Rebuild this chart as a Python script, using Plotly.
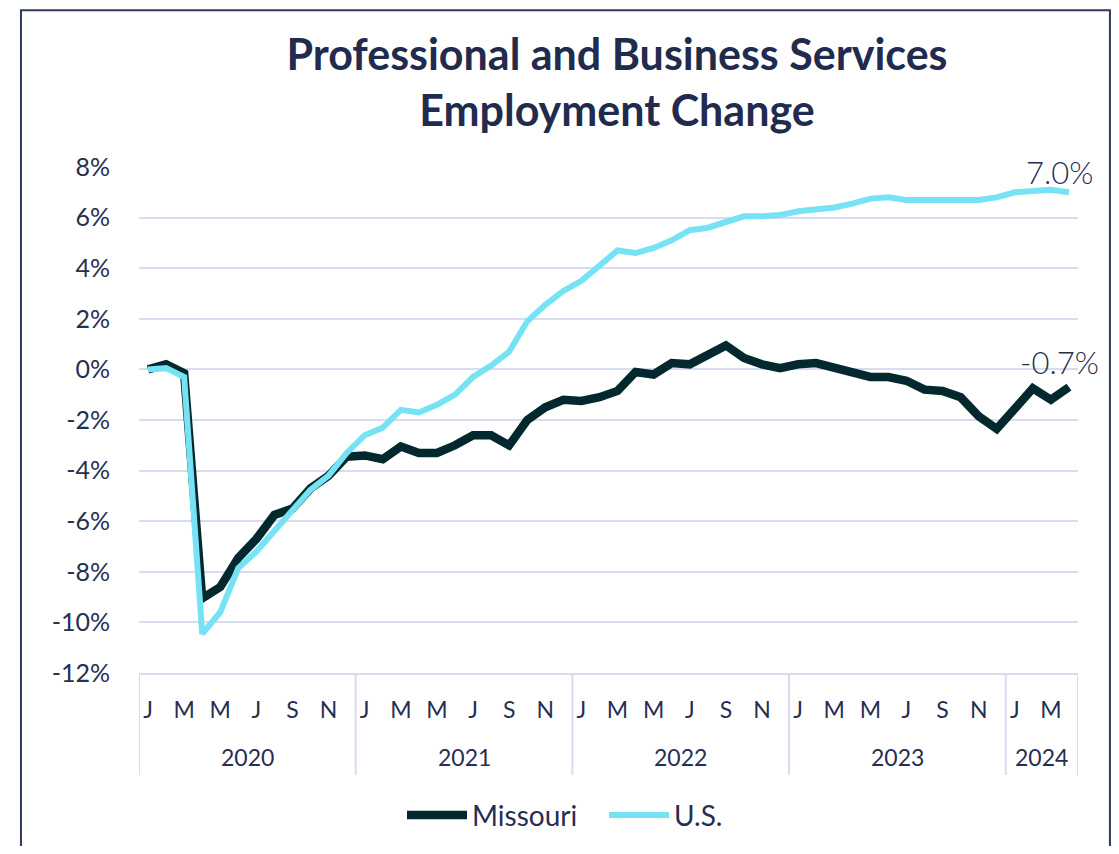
import plotly.graph_objects as go

# ---- data ----
years = [2020, 2021, 2022, 2023, 2024]
month_initials = ["J", "F", "M", "A", "M", "J", "J", "A", "S", "O", "N", "D"]
months = [f"{y}-{m:02d}" for y in years for m in range(1, 13)][:52]  # Jan 2020 - Apr 2024

missouri = [
    0.0, 0.2, -0.15, -9.05, -8.6, -7.45, -6.7, -5.75, -5.5, -4.7, -4.2, -3.45,
    -3.4, -3.55, -3.05, -3.3, -3.3, -3.0, -2.6, -2.6, -3.0, -2.0, -1.5, -1.2,
    -1.25, -1.1, -0.85, -0.1, -0.2, 0.25, 0.2, 0.55, 0.95, 0.45, 0.2, 0.05,
    0.2, 0.25, 0.05, -0.15, -0.3, -0.3, -0.45, -0.8, -0.85, -1.1, -1.85, -2.35,
    -1.5, -0.75, -1.2, -0.7,
]
us = [
    0.0, 0.05, -0.3, -10.45, -9.6, -7.85, -7.2, -6.4, -5.6, -4.75, -4.2, -3.3,
    -2.6, -2.3, -1.6, -1.7, -1.4, -1.0, -0.3, 0.15, 0.7, 1.9, 2.55, 3.1,
    3.5, 4.1, 4.7, 4.6, 4.8, 5.1, 5.5, 5.6, 5.8, 6.05, 6.05, 6.1,
    6.25, 6.3, 6.4, 6.55, 6.75, 6.8, 6.7, 6.7, 6.7, 6.65, 6.7, 6.8,
    7.0, 7.05, 7.1, 7.0,
]
y_tick_vals = [-12, -10, -8, -6, -4, -2, 0, 2, 4, 6, 8]
y_tick_text = ["-12%", "-10%", "-8%", "-6%", "-4%", "-2%", "0%", "2%", "4%", "6%", "8%"]
end_labels = ["-0.7%", "7.0%"]

TEXT = "#262f52"
GRID = "#d9dcee"
FONT = "Lato, 'Open Sans', sans-serif"

W, H = 1103, 838

fig = go.Figure()
fig.add_trace(go.Scatter(x=months, y=missouri, mode="lines", name="Missouri",
                         line=dict(color="#03292e", width=8.5)))
fig.add_trace(go.Scatter(x=months, y=us, mode="lines", name="U.S.",
                         line=dict(color="#75e3f3", width=6)))

# x ticks: every other month
tick_idx = list(range(0, len(months), 2))
fig.update_xaxes(
    type="category",
    range=[-0.5, len(months) - 0.5],
    tickvals=[months[i] for i in tick_idx],
    ticktext=[month_initials[int(months[i][5:]) - 1] for i in tick_idx],
    tickfont=dict(size=23, color=TEXT, family=FONT),
    showgrid=False, ticks="", ticklabelstandoff=15,
    showline=True, linecolor=GRID, linewidth=2,
)
fig.update_yaxes(
    range=[-12, 8], tickvals=y_tick_vals, ticktext=y_tick_text,
    tickfont=dict(size=25, color=TEXT, family=FONT),
    showgrid=True, gridcolor=GRID, gridwidth=2, zeroline=False,
    ticks="", ticklabelstandoff=28,
)

# year group labels and dividers
shapes = []
annotations = []
n = len(months)
for y in years:
    idx = [i for i, m in enumerate(months) if m.startswith(str(y))]
    if not idx:
        continue
    c = (idx[0] + idx[-1]) / 2
    annotations.append(dict(x=c, y=-0.166, xref="x", yref="paper", text=str(y),
                            showarrow=False, font=dict(size=23, color=TEXT, family=FONT),
                            yanchor="middle"))
    shapes.append(dict(type="line", xref="x", yref="paper", x0=idx[0] - 0.5, x1=idx[0] - 0.5,
                       y0=0, y1=-0.2016, line=dict(color=GRID, width=2)))
shapes.append(dict(type="line", xref="x", yref="paper", x0=n - 0.5, x1=n - 0.5,
                   y0=0, y1=-0.2016, line=dict(color=GRID, width=2)))

# outer border
shapes.append(dict(type="rect", xref="paper", yref="paper", x0=-0.1257, x1=1.034,
                   y0=-0.5, y1=1.31, line=dict(color="#2d3a5c", width=2), layer="below"))

# end labels
annotations.append(dict(x=months[-1], y=missouri[-1], text=end_labels[0], showarrow=False,
                        xshift=-9, yshift=25, font=dict(size=31, color=TEXT, family=FONT, weight=300)))
annotations.append(dict(x=months[-1], y=us[-1], text=end_labels[1], showarrow=False,
                        xshift=-9, yshift=20, font=dict(size=31, color=TEXT, family=FONT, weight=300)))

fig.update_layout(
    width=W, height=H,
    margin=dict(l=131, r=33, t=159, b=173, autoexpand=False),
    paper_bgcolor="white", plot_bgcolor="white",
    title=dict(text="<b>Professional and Business Services<br>Employment Change</b>",
               x=609 / W, xanchor="center", y=1 - 62 / H, yanchor="middle",
               font=dict(size=43, color="#212b4d", family=FONT)),
    legend=dict(orientation="h", x=(410 - 139 - 8) / 939, xanchor="left", y=-0.281, yanchor="middle",
                font=dict(size=28, color=TEXT, family=FONT), itemwidth=60,
                entrywidth=127, entrywidthmode="pixels",
                bgcolor="rgba(0,0,0,0)"),
    shapes=shapes, annotations=annotations,
)

fig.write_html("out.html")
